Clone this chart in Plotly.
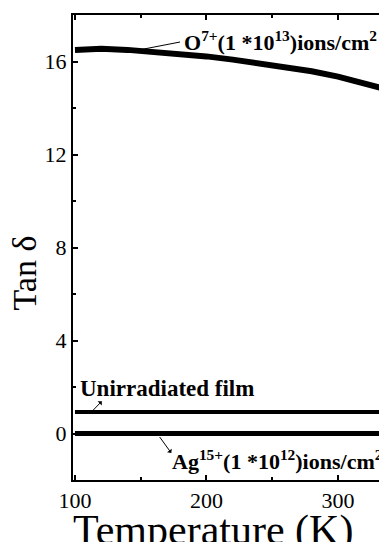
import plotly.graph_objects as go

# Data
temp_o = [100, 110, 120, 140, 160, 180, 200, 220, 240, 260, 280, 300, 320, 337]
tan_o = [16.5, 16.55, 16.55, 16.5, 16.42, 16.33, 16.22, 16.08, 15.93, 15.78, 15.58, 15.35, 15.08, 14.8]

temp_un = [100, 150, 200, 250, 300, 337]
tan_un = [0.92, 0.92, 0.93, 0.93, 0.93, 0.93]

temp_ag = [100, 150, 200, 250, 300, 337]
tan_ag = [0.0, 0.0, 0.0, 0.0, 0.0, 0.0]

x_ticks = [100, 200, 300]
y_ticks = [0, 4, 8, 12, 16]

FONT = "Liberation Serif"

fig = go.Figure()
fig.add_trace(go.Scatter(x=temp_o, y=tan_o, mode="lines",
                         line=dict(color="black", width=6), showlegend=False))
fig.add_trace(go.Scatter(x=temp_un, y=tan_un, mode="lines",
                         line=dict(color="black", width=4), showlegend=False))
fig.add_trace(go.Scatter(x=temp_ag, y=tan_ag, mode="lines",
                         line=dict(color="black", width=5), showlegend=False))

axis_common = dict(
    showline=True, linecolor="black", linewidth=2, mirror="ticks",
    ticks="inside", ticklen=5, tickwidth=1.5, tickcolor="black",
    showgrid=False, zeroline=False,
    tickfont=dict(family=FONT, size=22, color="black"),
)

fig.update_xaxes(range=[98.5, 336.5], tickvals=x_ticks,
                 minor=dict(ticks="inside", ticklen=3, tickwidth=1.5, dtick=50, tick0=100,
                            tickcolor="black"),
                 **axis_common)
fig.update_yaxes(range=[-2, 18], tickvals=y_ticks,
                 minor=dict(ticks="inside", ticklen=3, tickwidth=1.5, dtick=2, tick0=0,
                            tickcolor="black"),
                 **axis_common)

lab = dict(family=FONT, size=22, color="black", weight="bold")
arrow_style = dict(showarrow=True, arrowcolor="black", arrowwidth=1,
                   axref="x", ayref="y", xref="x", yref="y", text="")

# O7+ label and leader line
fig.add_annotation(x=181.5, y=16.9, xref="x", yref="y",
                   text="O<sup>7+</sup>(1 *10<sup>13</sup>)ions/cm<sup>2</sup>",
                   showarrow=False, font=lab, xanchor="left", yanchor="middle")
fig.add_annotation(x=149, y=16.5, ax=181, ay=16.85, arrowhead=0, **arrow_style)

# Unirradiated film label and arrow
fig.add_annotation(x=102.0, y=1.94, xref="x", yref="y",
                   text="Unirradiated film", showarrow=False,
                   font=dict(family=FONT, size=23, color="black", weight="bold"),
                   xanchor="left", yanchor="middle")
fig.add_annotation(x=112.9, y=0.95, ax=121.5, ay=1.45, arrowhead=2,
                   arrowsize=0.8, arrowside="start", **arrow_style)

# Ag15+ label and arrow
fig.add_annotation(x=172, y=-1.12, xref="x", yref="y",
                   text="Ag<sup>15+</sup>(1 *10<sup>12</sup>)ions/cm<sup>2</sup>",
                   showarrow=False, font=lab, xanchor="left", yanchor="middle")
fig.add_annotation(x=164.4, y=-0.15, ax=174, ay=-0.9, arrowhead=2,
                   arrowsize=0.8, arrowside="start", **arrow_style)

# Axis titles
fig.add_annotation(x=0.448, y=-0.108, xref="paper", yref="paper",
                   text="Temperature (K)", showarrow=False,
                   font=dict(family=FONT, size=42, color="black"),
                   xanchor="center", yanchor="middle")
fig.add_annotation(x=-0.155, y=0.445, xref="paper", yref="paper",
                   text="Tan δ", showarrow=False, textangle=-90,
                   font=dict(family=FONT, size=34, color="black"),
                   xanchor="center", yanchor="middle")

fig.update_layout(width=380, height=534,
                  margin=dict(l=65, r=0, t=7, b=62),
                  paper_bgcolor="white", plot_bgcolor="white")

fig.write_html("out.html")
